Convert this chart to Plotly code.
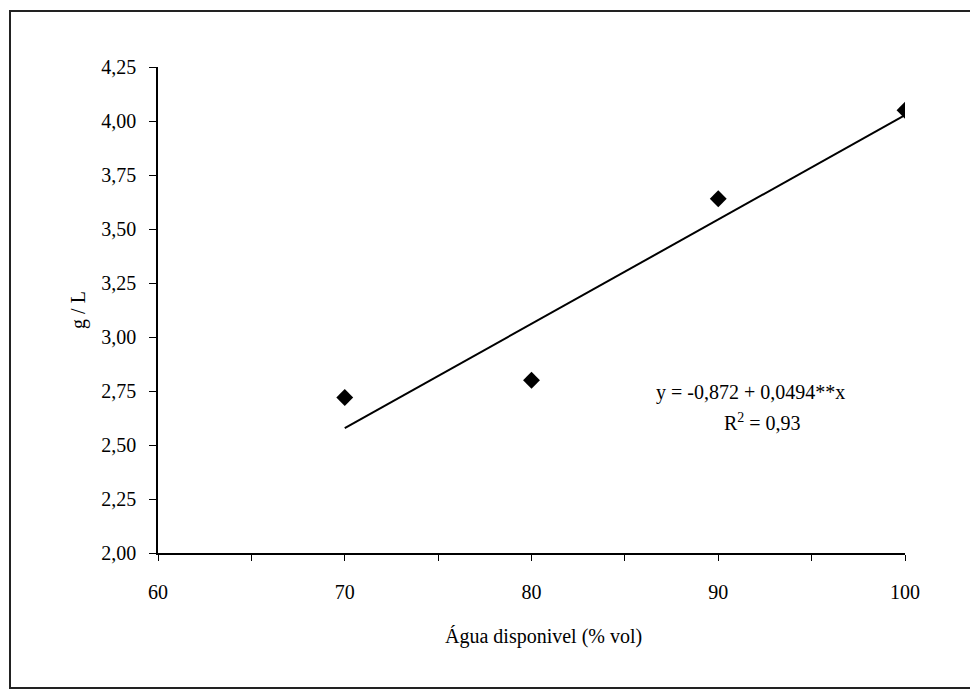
import numpy as np
import plotly.graph_objects as go

# Data
agua = [70, 80, 90, 100]
g_por_l = [2.72, 2.80, 3.64, 4.05]

x_ticks = [60, 70, 80, 90, 100]
x_ticklabels = ["60", "70", "80", "90", "100"]
x_minor_ticks = [65, 75, 85, 95]
y_ticks = [2.00, 2.25, 2.50, 2.75, 3.00, 3.25, 3.50, 3.75, 4.00, 4.25]
y_ticklabels = ["2,00", "2,25", "2,50", "2,75", "3,00", "3,25", "3,50", "3,75", "4,00", "4,25"]

equation_text = "y = -0,872 + 0,0494**x"
r2_text = "R<sup>2</sup> = 0,93"
x_title = "Água disponivel (% vol)"
y_title = "g / L"

# linear fit drawn across the data range
slope, intercept = np.polyfit(agua, g_por_l, 1)
fit_x = [min(agua), max(agua)]
fit_y = [intercept + slope * v for v in fit_x]

FONT = "Liberation Serif"
W, H = 970, 690
ML, MR, MT, MB = 158, 65, 67, 137
PW, PH = W - ML - MR, H - MT - MB


def px(xp):
    return (xp - ML) / PW


def py(yp):
    return (H - MB - yp) / PH


fig = go.Figure()
fig.add_trace(go.Scatter(x=fit_x, y=fit_y, mode="lines",
                         line=dict(color="black", width=2), showlegend=False,
                         hoverinfo="skip"))
fig.add_trace(go.Scatter(x=agua, y=g_por_l, mode="markers",
                         marker=dict(symbol="diamond", size=13, color="black"),
                         showlegend=False))

fig.update_xaxes(range=[60, 100], showline=True, linecolor="black", linewidth=1.5,
                 showgrid=False, zeroline=False, ticks="outside", ticklen=6,
                 tickcolor="black", tickwidth=1.2,
                 tickvals=x_ticks, ticktext=x_ticklabels,
                 minor=dict(tickvals=x_minor_ticks, ticks="outside", ticklen=6,
                            tickcolor="black", tickwidth=1.2, showgrid=False),
                 tickfont=dict(family=FONT, size=20, color="black"),
                 ticklabelstandoff=14)
fig.update_yaxes(range=[2.0, 4.25], showline=True, linecolor="black", linewidth=1.5,
                 showgrid=False, zeroline=False, ticks="outside", ticklen=7,
                 tickcolor="black", tickwidth=1.2,
                 tickvals=y_ticks, ticktext=y_ticklabels,
                 tickfont=dict(family=FONT, size=20, color="black"),
                 ticklabelstandoff=9,
                 title=dict(text=y_title, font=dict(family=FONT, size=20, color="black"),
                            standoff=10))

fig.add_annotation(x=px(543), y=py(636), xref="paper", yref="paper", text=x_title,
                   showarrow=False, font=dict(family=FONT, size=20, color="black"),
                   xanchor="center", yanchor="middle")
fig.add_annotation(x=px(750), y=py(392), xref="paper", yref="paper", text=equation_text,
                   showarrow=False, font=dict(family=FONT, size=20, color="black"),
                   xanchor="center", yanchor="middle")
fig.add_annotation(x=px(762), y=py(422), xref="paper", yref="paper", text=r2_text,
                   showarrow=False, font=dict(family=FONT, size=20, color="black"),
                   xanchor="center", yanchor="middle")

# outer frame (right side falls outside the picture)
fig.add_shape(type="path", xref="paper", yref="paper",
              path=f"M {px(1000)},{py(11)} L {px(10)},{py(11)} L {px(10)},{py(688)} L {px(1000)},{py(688)}",
              line=dict(color="#222222", width=2))

fig.update_layout(width=W, height=H, margin=dict(l=ML, r=MR, t=MT, b=MB),
                  paper_bgcolor="white", plot_bgcolor="white",
                  font=dict(family=FONT, color="black"))

fig.write_html("out.html")
